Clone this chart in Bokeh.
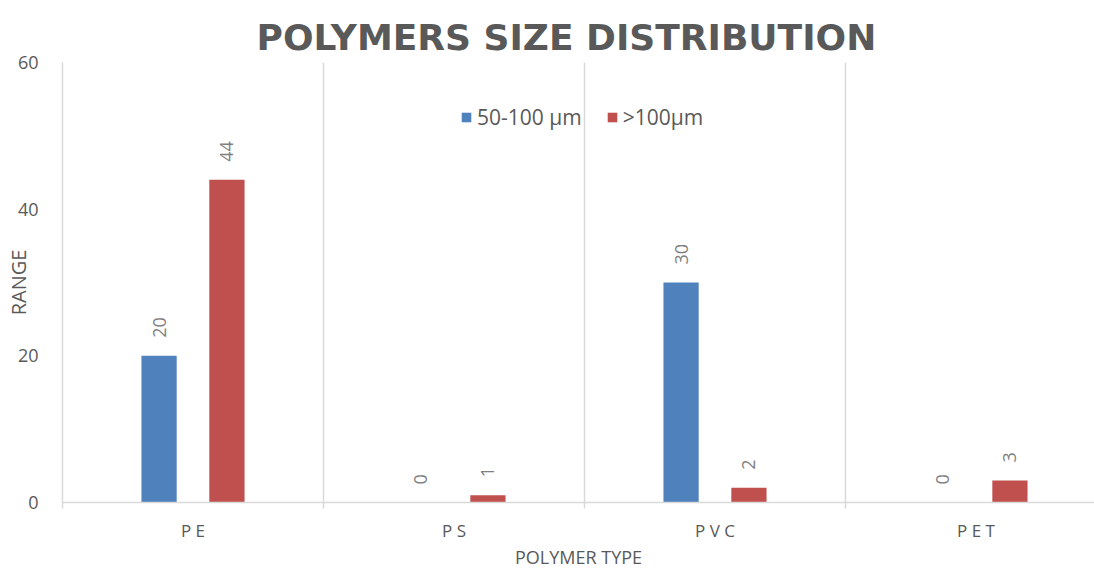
import math
from bokeh.plotting import figure
from bokeh.models import FixedTicker, ColumnDataSource, Range1d
from bokeh.core.properties import value
from bokeh.embed import file_html
from bokeh.resources import INLINE

categories = ["PE", "PS", "PVC", "PET"]
tick_labels = ["P E", "P S", "P V C", "P E T"]
series_names = ["50-100 µm", ">100µm"]
small_sizes = [20, 0, 30, 0]
large_sizes = [44, 1, 2, 3]
colors = ["#4F81BD", "#C0504D"]

FONT = "Open Sans"
GREY = "#595959"

centers = [i + 0.5 for i in range(len(categories))]
offset = 0.13
bar_w = 0.135

p = figure(width=1094, height=572, output_backend="svg", toolbar_location=None,
           x_range=Range1d(0, 3.954), y_range=Range1d(0, 60),
           min_border_left=62, min_border_right=0, min_border_bottom=70, min_border_top=62)

p.title.text = "POLYMERS SIZE DISTRIBUTION"
p.title.text_font = "DejaVu Sans"
p.title.text_font_size = "36px"
p.title.text_font_style = "bold"
p.title.text_color = GREY
p.title.align = "left"
p.title.offset = 194
p.title.standoff = 9

for vals, name, col, sign in [(small_sizes, series_names[0], colors[0], -1),
                              (large_sizes, series_names[1], colors[1], 1)]:
    xs = [c + sign * offset for c in centers]
    src = ColumnDataSource(dict(x=xs, top=vals, label=[str(v) for v in vals]))
    p.vbar(x="x", top="top", width=bar_w, source=src, fill_color=col, line_color=None,
           legend_label=name)
    p.text(x="x", y="top", text="label", source=src, angle=math.pi / 2,
           text_align="left", text_baseline="middle", y_offset=-18, x_offset=0,
           text_font=value(FONT), text_font_size="18px", text_color="#7f7f7f")

p.outline_line_color = None
p.xaxis.ticker = FixedTicker(ticks=centers, minor_ticks=[0, 1, 2, 3, 4])
p.xaxis.major_label_overrides = {c: t for c, t in zip(centers, tick_labels)}
p.xaxis.major_tick_line_color = None
p.xaxis.major_tick_out = 0
p.xaxis.major_tick_in = 0
p.xaxis.minor_tick_line_color = "#d9d9d9"
p.xaxis.minor_tick_line_width = 1.5
p.xaxis.minor_tick_out = 6
p.xaxis.minor_tick_in = 0
p.xaxis.axis_line_color = "#d9d9d9"
p.xaxis.axis_line_width = 1.5
p.xaxis.major_label_text_font = FONT
p.xaxis.major_label_text_font_size = "17px"
p.xaxis.major_label_text_color = GREY
p.xaxis.major_label_standoff = 10
p.xaxis.axis_label = "POLYMER TYPE"
p.xaxis.axis_label_text_font = FONT
p.xaxis.axis_label_text_font_size = "18px"
p.xaxis.axis_label_text_font_style = "normal"
p.xaxis.axis_label_text_color = GREY
p.xaxis.axis_label_standoff = 0

p.yaxis.ticker = FixedTicker(ticks=[0, 20, 40, 60])
p.yaxis.major_tick_line_color = None
p.yaxis.major_tick_out = 0
p.yaxis.major_tick_in = 0
p.yaxis.minor_tick_line_color = None
p.yaxis.minor_tick_out = 0
p.yaxis.minor_tick_in = 0
p.yaxis.axis_line_color = "#d9d9d9"
p.yaxis.axis_line_width = 1.5
p.yaxis.major_label_text_font = FONT
p.yaxis.major_label_text_font_size = "18px"
p.yaxis.major_label_text_color = GREY
p.yaxis.major_label_standoff = 24
p.yaxis.axis_label = "RANGE"
p.yaxis.axis_label_text_font = FONT
p.yaxis.axis_label_text_font_size = "20px"
p.yaxis.axis_label_text_font_style = "normal"
p.yaxis.axis_label_text_color = GREY
p.yaxis.axis_label_standoff = -17

p.xgrid.grid_line_color = None
p.xgrid.minor_grid_line_color = "#d9d9d9"
p.xgrid.minor_grid_line_width = 1.5
p.ygrid.grid_line_color = None

p.legend.orientation = "horizontal"
p.legend.location = (398, 371)
p.legend.border_line_color = None
p.legend.background_fill_alpha = 0
p.legend.padding = 0
p.legend.margin = 0
p.legend.spacing = 24
p.legend.label_standoff = 5
p.legend.glyph_width = 12
p.legend.glyph_height = 12
p.legend.label_text_font = FONT
p.legend.label_text_font_size = "21px"
p.legend.label_text_color = GREY

open("out.html", "w").write(file_html(p, INLINE))
